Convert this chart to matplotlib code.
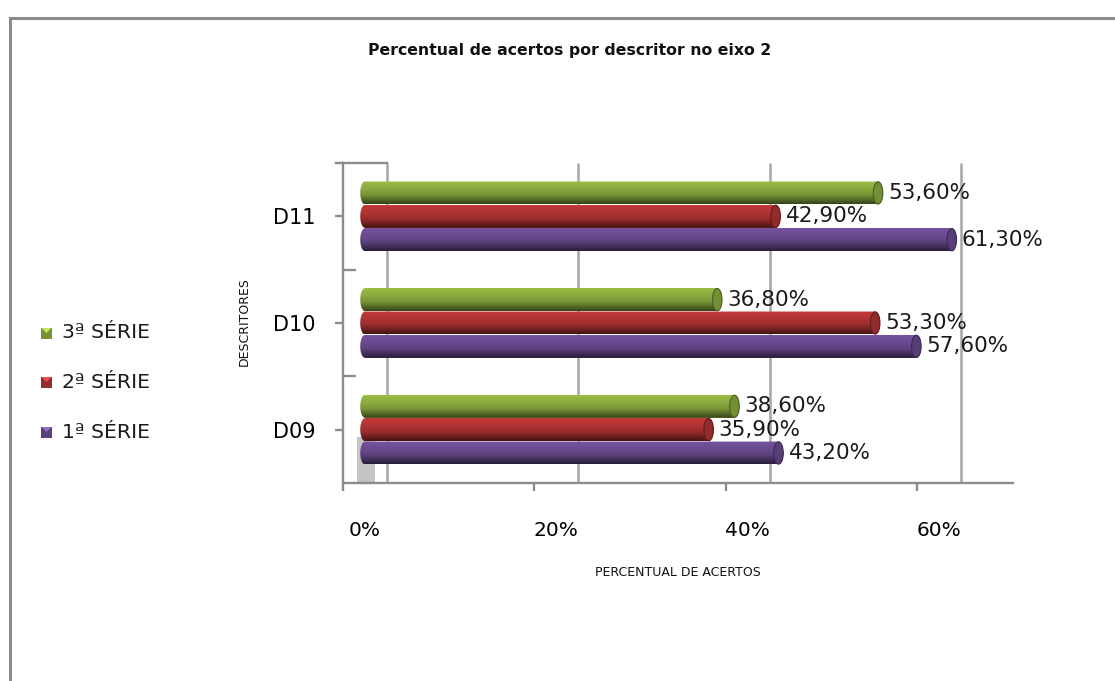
import numpy as np
import matplotlib
matplotlib.use("Agg")
import matplotlib.pyplot as plt
from matplotlib.path import Path
from matplotlib.patches import PathPatch, Ellipse, Rectangle, Polygon
from matplotlib.lines import Line2D
from matplotlib.transforms import ScaledTranslation
from matplotlib.colors import to_rgb

# ---- data -------------------------------------------------------------
descritores = ["D09", "D10", "D11"]
series_names = ["1ª SÉRIE", "2ª SÉRIE", "3ª SÉRIE"]
serie_1 = [43.2, 57.6, 61.3]
serie_2 = [35.9, 53.3, 42.9]
serie_3 = [38.6, 36.8, 53.6]
x_ticks = [0, 20, 40, 60]
x_tick_labels = ["0%", "20%", "40%", "60%"]
title = "Percentual de acertos por descritor no eixo 2"
x_title = "PERCENTUAL DE ACERTOS"
y_title = "DESCRITORES"

# ---- style ------------------------------------------------------------
colors = ["#6B4C92", "#B23434", "#8CAD40"]
axis_gray = "#8c8c8c"
grid_gray = "#a6a6a6"
DEPTH = 2.3          # perspective shift (in % units) between front axis and bars
BAR_H = 0.215
BAR_STEP = 0.219
CAP_RX = 0.5

W, H = 1115, 681
fig = plt.figure(figsize=(W / 100, H / 100), dpi=100)


def px_rect(x0, y0, x1, y1):
    return [x0 / W, 1 - y1 / H, (x1 - x0) / W, (y1 - y0) / H]


def fx(x):
    return x / W


def fy(y):
    return 1 - y / H


# outer chart frame (runs off the right and bottom edges)
fig.add_artist(Line2D([fx(10), 1.0], [fy(18), fy(18)], color="#8a8a8a", lw=2.2))
fig.add_artist(Line2D([fx(10), fx(10)], [fy(18), 0.0], color="#8a8a8a", lw=2.2))

ax = fig.add_axes(px_rect(343, 163, 1013, 483))
ax.set_xlim(0, 70)
ax.set_ylim(-0.5, 2.5)
ax.patch.set_alpha(0)

# back-wall gridlines
ax.vlines([t + 2 * DEPTH for t in x_ticks], -0.5, 2.5, color=grid_gray, lw=1.8, zorder=1)

# floor shadow near the origin
ax.add_patch(Rectangle((1.45, -0.5), 1.9, 0.43, facecolor="#c4c4c4", edgecolor="none", zorder=1.5))

for side in ("top", "right"):
    ax.spines[side].set_visible(False)
for side in ("left", "bottom"):
    ax.spines[side].set_color(axis_gray)
    ax.spines[side].set_linewidth(1.7)

# top edge of the side wall
ax.plot([-0.7, 2 * DEPTH], [2.5, 2.5], color=axis_gray, lw=1.7, clip_on=False, zorder=2)

ax.set_xticks(x_ticks, x_tick_labels)
ax.tick_params(axis="x", direction="out", length=6, width=1.7, color=axis_gray,
               pad=21, labelsize=14.5)
shift = ScaledTranslation(0.22, 0, fig.dpi_scale_trans)
for lab in ax.get_xticklabels():
    lab.set_transform(lab.get_transform() + shift)

ax.set_yticks([0, 1, 2], descritores)
ax.set_yticks([0.5, 1.5], minor=True)
ax.tick_params(axis="y", which="major", direction="out", length=6, width=1.7,
               color=axis_gray, pad=14, labelsize=15)
ax.tick_params(axis="y", which="minor", direction="in", length=9, width=1.7,
               color=axis_gray)


def shade(color, n=64):
    base = np.array(to_rgb(color))
    t = np.linspace(0, 1, n)
    f = np.interp(t, [0.0, 0.08, 0.3, 0.6, 0.82, 1.0],
                  [1.12, 1.06, 1.0, 0.86, 0.6, 0.38])
    img = np.clip(base[None, :] * f[:, None], 0, 1)
    return img[:, None, :]


def capsule(x0, x1, yc, ry, rx, n=40):
    th1 = np.linspace(np.pi / 2, 3 * np.pi / 2, n)
    th2 = np.linspace(-np.pi / 2, np.pi / 2, n)
    xs = np.concatenate([x0 + rx * np.cos(th1), x1 + rx * np.cos(th2)])
    ys = np.concatenate([yc + ry * np.sin(th1), yc + ry * np.sin(th2)])
    return Path(np.column_stack([xs, ys]), closed=False)


y_pos = np.arange(len(descritores))
all_series = [serie_1, serie_2, serie_3]
offsets = [-BAR_STEP, 0.0, BAR_STEP]

for vals, off, col in zip(all_series, offsets, colors):
    ys = y_pos + off
    bars = ax.barh(ys, vals, left=DEPTH, height=BAR_H, color=col, zorder=2)
    for rect, v in zip(bars, vals):
        x0 = rect.get_x()
        x1 = x0 + rect.get_width()
        yc = rect.get_y() + rect.get_height() / 2
        ry = rect.get_height() / 2
        clip = PathPatch(capsule(x0, x1, yc, ry, CAP_RX), transform=ax.transData,
                         facecolor="none", edgecolor="none")
        ax.add_patch(clip)
        im = ax.imshow(shade(col), extent=[x0 - CAP_RX, x1 + CAP_RX, yc - ry, yc + ry],
                       aspect="auto", interpolation="bilinear", zorder=3, origin="upper")
        im.set_clip_path(clip)
        cap_face = np.clip(np.array(to_rgb(col)) * 0.82, 0, 1)
        cap_edge = np.clip(np.array(to_rgb(col)) * 0.55, 0, 1)
        ax.add_patch(Ellipse((x1, yc), 2 * CAP_RX, 2 * ry * 0.97, facecolor=cap_face,
                             edgecolor=cap_edge, lw=0.8, zorder=4))
        label = f"{v:.2f}".replace(".", ",") + "%"
        ax.text(x1 + CAP_RX + 0.55, yc, label, ha="left", va="center",
                fontsize=15.5, color="#1a1a1a", zorder=5, clip_on=False)

ax.set_xlim(0, 70)
ax.set_ylim(-0.5, 2.5)

# titles
fig.text(fx(570), fy(51), title, ha="center", va="center", fontsize=11.3,
         fontweight="bold", color="#111111")
fig.text(fx(678), fy(572), x_title, ha="center", va="center", fontsize=9,
         color="#111111")
fig.text(fx(244), fy(322), y_title, ha="center", va="center", fontsize=9,
         rotation=90, color="#111111")

# legend (top entry is the last series)
legend_rows = [333, 382, 432]
for row, name, col in zip(legend_rows, series_names[::-1], colors[::-1]):
    base = np.array(to_rgb(col))
    fig.add_artist(Rectangle((fx(41), fy(row + 5.5)), 11 / W, 11 / H,
                             facecolor=np.clip(base * 0.85, 0, 1), edgecolor="none",
                             transform=fig.transFigure))
    fig.add_artist(Polygon([(fx(41.5), fy(row - 5)), (fx(51.5), fy(row - 5)),
                            (fx(46.5), fy(row))], closed=True,
                           facecolor=np.clip(base * 1.25 + 0.05, 0, 1), edgecolor="none",
                           transform=fig.transFigure))
    fig.text(fx(62), fy(row), name, ha="left", va="center", fontsize=14.7,
             color="#1a1a1a")

fig.savefig("out.png", dpi=100)
